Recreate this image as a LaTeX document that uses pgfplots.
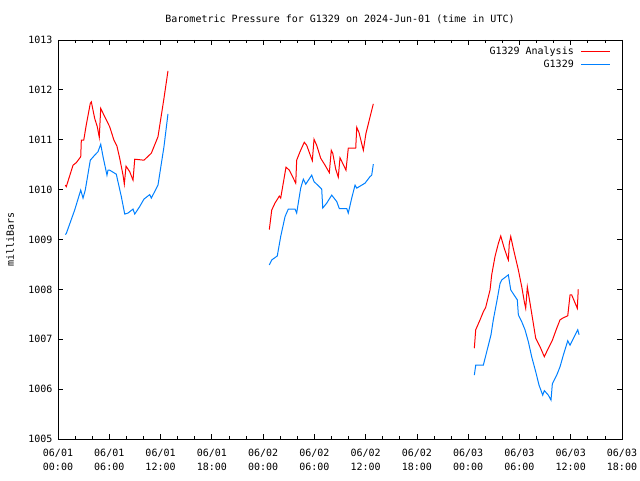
\documentclass[border=0pt]{standalone}
\usepackage{pgfplots}
\pgfplotsset{compat=1.18}
\usepackage{fontspec}
\setmainfont{DejaVu Sans Mono}
\definecolor{gred}{RGB}{255,0,0}
\definecolor{gblue}{RGB}{0,128,255}
\begin{document}
\fontsize{10}{14}\selectfont
\begin{tikzpicture}
\begin{axis}[
  scale only axis, width=564pt, height=399pt,
  xmin=0, xmax=66, ymin=1005, ymax=1013,
  xtick={0,6,...,66}, minor x tick num=2,
  xticklabels={{06/01\\00:00},{06/01\\06:00},{06/01\\12:00},{06/01\\18:00},{06/02\\00:00},{06/02\\06:00},{06/02\\12:00},{06/02\\18:00},{06/03\\00:00},{06/03\\06:00},{06/03\\12:00},{06/03\\18:00}},
  ytick={1005,1006,...,1013},
  tick align=inside, xtick pos=both, ytick pos=both,
  major tick length=5pt, minor tick length=3pt,
  every tick/.style={black, line width=0.8pt},
  axis line style={black, line width=0.8pt},
  xticklabel style={align=center, font=\fontsize{10}{14}\selectfont, yshift=-7pt},
  yticklabel style={font=\fontsize{10}{14}\selectfont, xshift=-2pt},
  /pgf/number format/.cd, 1000 sep={}, assume math mode=true, /pgfplots/.cd,
  title={Barometric Pressure for G1329 on 2024-Jun-01 (time in UTC)},
  title style={at={(axis description cs:0.5,1.0376)}, anchor=center, font=\fontsize{10}{14}\selectfont},
  ylabel={milliBars},
  ylabel style={at={(axis description cs:-0.0851,0.5)}, anchor=center, font=\fontsize{10}{14}\selectfont},
  unbounded coords=jump,
  legend plot pos=right, legend cell align=right,
  legend style={draw=none, fill=none, at={(axis description cs:1,1)}, anchor=north east, xshift=-8pt, yshift=-3pt, font=\fontsize{10}{13}\selectfont, row sep=0pt, column sep=5pt},
  legend image code/.code={\draw[#1] (0pt,0pt) -- (29pt,0pt);},
]
\addplot[gred, line width=1pt] coordinates {
(0.85,1010.09)(0.97,1010.06)(1.76,1010.49)(2.14,1010.54)(2.66,1010.66)(2.73,1010.99)(3.01,1010.99)(3.31,1011.30)(3.78,1011.73)(3.90,1011.76)(4.29,1011.43)(4.60,1011.26)(4.83,1011.05)(5.00,1011.63)(5.47,1011.46)(6.05,1011.26)(6.55,1010.99)(6.90,1010.87)(7.22,1010.63)(7.61,1010.29)(7.76,1010.11)(7.96,1010.47)(8.39,1010.36)(8.78,1010.19)(8.98,1010.61)(10.06,1010.59)(10.92,1010.73)(11.70,1011.06)(12.40,1011.83)(12.87,1012.38)
(18,nan)
(24.73,1009.20)(25.01,1009.59)(25.39,1009.73)(25.90,1009.87)(26.06,1009.83)(26.68,1010.45)(27.07,1010.39)(27.82,1010.13)(27.93,1010.59)(28.32,1010.76)(28.82,1010.95)(29.10,1010.89)(29.76,1010.58)(29.96,1011.01)(30.27,1010.89)(30.74,1010.63)(31.25,1010.49)(31.75,1010.34)(31.98,1010.79)(32.15,1010.73)(32.50,1010.41)(32.80,1010.25)(33.00,1010.64)(33.70,1010.39)(33.97,1010.83)(34.84,1010.83)(34.96,1011.25)(35.23,1011.14)(35.73,1010.79)(36.04,1011.13)(36.90,1011.72)
(42,nan)
(48.72,1006.82)(48.88,1007.19)(49.39,1007.39)(49.77,1007.55)(50.05,1007.64)(50.56,1007.99)(50.75,1008.29)(51.14,1008.66)(51.53,1008.92)(51.81,1009.07)(52.23,1008.82)(52.63,1008.62)(52.70,1008.59)(52.81,1008.92)(52.98,1009.06)(53.28,1008.82)(53.87,1008.39)(54.27,1008.05)(54.57,1007.75)(54.73,1007.62)(54.92,1008.05)(55.24,1007.72)(55.62,1007.32)(55.90,1007.02)(56.41,1006.85)(56.91,1006.65)(57.38,1006.82)(57.85,1006.98)(58.36,1007.22)(58.75,1007.39)(59.13,1007.43)(59.65,1007.47)(59.92,1007.89)(60.11,1007.89)(60.77,1007.62)(60.88,1008.00)
};
\addlegendentry{G1329 Analysis}
\addplot[gblue, line width=1pt] coordinates {
(0.85,1009.10)(0.97,1009.12)(1.95,1009.59)(2.66,1009.99)(2.93,1009.83)(3.19,1009.99)(3.78,1010.59)(4.29,1010.69)(4.68,1010.76)(5.00,1010.91)(5.27,1010.66)(5.73,1010.29)(5.85,1010.39)(6.05,1010.39)(6.82,1010.31)(7.41,1009.86)(7.81,1009.51)(8.19,1009.53)(8.78,1009.61)(8.98,1009.51)(9.56,1009.66)(10.06,1009.81)(10.73,1009.90)(10.92,1009.83)(11.70,1010.09)(12.40,1010.86)(12.87,1011.52)
(18,nan)
(24.73,1008.49)(25.01,1008.59)(25.66,1008.67)(26.06,1009.06)(26.57,1009.46)(26.95,1009.61)(27.74,1009.61)(27.93,1009.53)(28.40,1010.03)(28.71,1010.21)(28.99,1010.11)(29.69,1010.29)(29.96,1010.16)(30.58,1010.06)(30.86,1010.01)(30.98,1009.63)(31.45,1009.73)(32.03,1009.89)(32.62,1009.76)(32.92,1009.62)(33.79,1009.62)(33.97,1009.53)(34.37,1009.83)(34.76,1010.09)(34.96,1010.03)(35.93,1010.13)(36.51,1010.26)(36.71,1010.29)(36.90,1010.51)
(42,nan)
(48.72,1006.28)(48.88,1006.48)(49.77,1006.48)(50.17,1006.75)(50.67,1007.09)(50.94,1007.39)(51.34,1007.75)(51.73,1008.12)(51.93,1008.19)(52.39,1008.25)(52.70,1008.29)(52.98,1007.99)(53.36,1007.89)(53.75,1007.79)(53.87,1007.49)(54.27,1007.35)(54.65,1007.19)(55.04,1006.95)(55.43,1006.65)(55.90,1006.35)(56.29,1006.08)(56.72,1005.88)(56.91,1005.97)(57.38,1005.88)(57.69,1005.78)(57.85,1006.11)(58.36,1006.28)(58.75,1006.45)(59.13,1006.68)(59.65,1006.97)(59.92,1006.88)(60.82,1007.19)(60.98,1007.09)
};
\addlegendentry{G1329}
\end{axis}
\pgfresetboundingbox
\path[use as bounding box] ([xshift=-58pt,yshift=-41pt]current axis.south west) rectangle ([xshift=18pt,yshift=40pt]current axis.north east);
\end{tikzpicture}
\end{document}
